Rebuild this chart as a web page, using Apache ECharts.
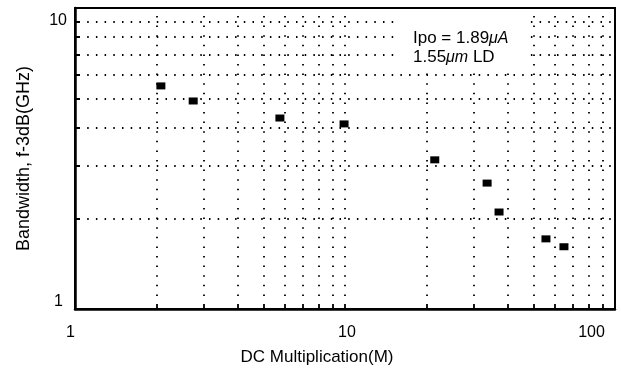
<!DOCTYPE html>
<html>
<head>
<meta charset="utf-8">
<script src="https://cdn.jsdelivr.net/npm/echarts@6/dist/echarts.min.js"></script>
<style>
html,body{margin:0;padding:0;background:#fff;}
#chart{width:621px;height:372px;}
</style>
</head>
<body>
<div id="chart"></div>
<script>
// Data
const multiplication = [2.08, 2.74, 5.74, 9.92, 21.5, 33.6, 37.2, 55.5, 64.7];
const bandwidth      = [5.51, 4.91, 4.31, 4.12, 3.13, 2.62, 2.10, 1.71, 1.61];
const xGridValues = [2, 3, 4, 5, 6, 7, 8, 9, 10, 20, 30, 40, 50, 60, 70, 80, 90];
const yGridValues = [2, 3, 4, 5, 6, 7, 8, 9];
const xTickLabels = ['1', '10', '100'];
const yTickLabels = ['1', '10'];
const annotationLines = ['Ipo = 1.89', '1.55'];

const FONT = 'Liberation Sans, Arial, Helvetica, sans-serif';

function dotPattern(len, gap) {
  const a = [5, gap - 1.5];
  let n = 5 + gap - 1.5;
  while (n < len + 20) { a.push(1.5, gap - 1.5); n += gap; }
  return a;
}

const gridLines = [];
xGridValues.forEach(v => gridLines.push({
  xAxis: v,
  lineStyle: {type: dotPattern(310, 9.6), color: '#000', width: 1.8}
}));
yGridValues.forEach(v => gridLines.push({
  yAxis: v,
  lineStyle: {type: dotPattern(545, 8.7), color: '#000', width: 1.8}
}));

const data = multiplication.map((x, i) => [x, bandwidth[i]]);

const chart = echarts.init(document.getElementById('chart'), null, {renderer: 'canvas'});
chart.setOption({
  animation: false,
  backgroundColor: '#fff',
  grid: {left: 75, right: 6, top: 8, bottom: 63, show: true, borderColor: '#000', borderWidth: 2, backgroundColor: 'transparent'},
  xAxis: {
    type: 'log', logBase: 10, min: 1, max: 100,
    axisLine: {show: true, onZero: false, lineStyle: {color: '#000', width: 2.5}},
    axisTick: {show: false},
    splitLine: {show: false},
    axisLabel: {
      margin: 16, color: '#000', fontSize: 16, fontFamily: FONT,
      formatter: v => {
        const r = Math.round(v);
        if (r === 1) return '{a|' + xTickLabels[0] + '}';
        if (r === 10) return '{b|' + xTickLabels[1] + '}';
        if (r === 100) return '{c|' + xTickLabels[2] + '}';
        return '';
      },
      rich: {
        a: {fontSize: 16, fontFamily: FONT, color: '#000', padding: [0, 9, 0, 0]},
        b: {fontSize: 16, fontFamily: FONT, color: '#000', padding: [0, 0, 0, 4]},
        c: {fontSize: 16, fontFamily: FONT, color: '#000', padding: [0, 47, 0, 0]}
      }
    },
    name: 'DC Multiplication(M)', nameLocation: 'middle', nameGap: 40,
    nameTextStyle: {color: '#000', fontSize: 17, fontFamily: FONT, padding: [0, 56, 0, 0]}
  },
  yAxis: {
    type: 'log', logBase: 10, min: 1, max: 10,
    axisLine: {show: true, onZero: false, lineStyle: {color: '#000', width: 2.5}},
    axisTick: {show: false},
    splitLine: {show: false},
    axisLabel: {
      margin: 8, color: '#000', fontSize: 16, fontFamily: FONT,
      formatter: v => {
        const r = Math.round(v);
        if (r === 1) return '{a|' + yTickLabels[0] + '}';
        if (r === 10) return '{b|' + yTickLabels[1] + '}';
        return '';
      },
      rich: {
        a: {fontSize: 16, fontFamily: FONT, color: '#000', padding: [0, 4, 14, 0]},
        b: {fontSize: 16, fontFamily: FONT, color: '#000', padding: [26, 0, 0, 0]}
      }
    },
    name: 'Bandwidth, f-3dB(GHz)', nameLocation: 'middle', nameGap: 42,
    nameTextStyle: {color: '#000', fontSize: 18, fontFamily: FONT}
  },
  series: [{
    type: 'scatter',
    data: data,
    symbol: 'rect',
    symbolSize: [9, 7],
    itemStyle: {color: '#000', opacity: 1},
    markLine: {
      silent: true,
      symbol: 'none',
      label: {show: false},
      animation: false,
      data: gridLines
    },
    z: 5
  }],
  graphic: [{
    type: 'text', left: 397, top: 9, z: 10,
    style: {
      text: annotationLines[0] + '{m|μA}\n' + annotationLines[1] + '{m|μm} LD',
      fontSize: 17, fontFamily: FONT, fill: '#000', lineHeight: 19,
      backgroundColor: '#fff', padding: [20, 17, 3, 16],
      rich: {m: {fontSize: 16, fontFamily: FONT, fontStyle: 'italic', fill: '#000', lineHeight: 19}}
    }
  }]
});
</script>
</body>
</html>
